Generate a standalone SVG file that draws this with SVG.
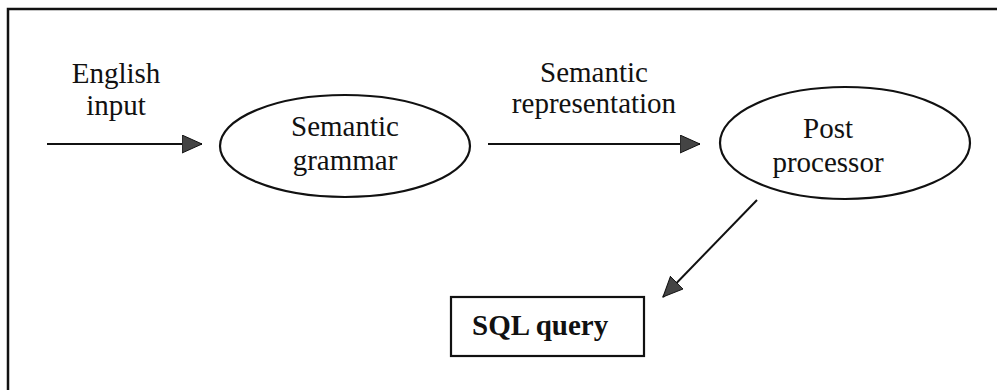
<svg xmlns="http://www.w3.org/2000/svg" width="997" height="390" viewBox="0 0 997 390">
  <defs>
    <marker id="arrow" markerUnits="userSpaceOnUse" markerWidth="22" markerHeight="20" refX="20" refY="9" orient="auto">
      <path d="M0,0 L20,9 L0,18 Z" fill="#444" stroke="#111" stroke-width="1"/>
    </marker>
  </defs>
  <style>
    .t { font-family: "Liberation Serif", "Times New Roman", serif; font-size: 29px; fill: #111; }
    .c { text-anchor: middle; }
    .b { font-weight: bold; }
    .shape { fill: #fff; stroke: #111; stroke-width: 2.2; }
    .edge { stroke: #111; stroke-width: 2; fill: none; }
  </style>
  <rect x="0" y="0" width="997" height="390" fill="#fff"/>
  <path d="M8,390 V9 H997" fill="none" stroke="#111" stroke-width="2.5"/>

  <g id="connectors">
    <line class="edge" x1="47" y1="144" x2="202" y2="144" marker-end="url(#arrow)"/>
    <line class="edge" x1="488" y1="144" x2="700" y2="144" marker-end="url(#arrow)"/>
    <line class="edge" x1="757" y1="200" x2="663" y2="297" marker-end="url(#arrow)"/>
    <text class="t c" x="116" y="83">English</text>
    <text class="t c" x="116" y="115">input</text>
    <text class="t c" x="594" y="82">Semantic</text>
    <text class="t c" x="594" y="113">representation</text>
  </g>

  <g id="semantic-grammar">
    <ellipse class="shape" cx="345" cy="146" rx="125" ry="51"/>
    <text class="t c" x="345" y="136">Semantic</text>
    <text class="t c" x="345" y="170">grammar</text>
  </g>

  <g id="post-processor">
    <ellipse class="shape" cx="845" cy="143" rx="125" ry="56"/>
    <text class="t c" x="828" y="138">Post</text>
    <text class="t c" x="828" y="172">processor</text>
  </g>

  <g id="sql-query">
    <rect class="shape" x="451" y="297" width="193" height="59" stroke-width="2.5"/>
    <text class="t b" x="472" y="335">SQL query</text>
  </g>
</svg>
